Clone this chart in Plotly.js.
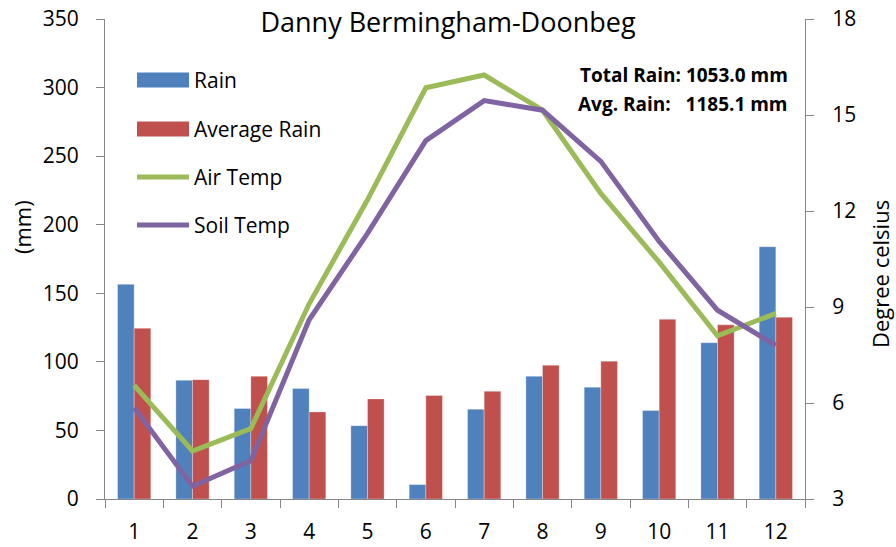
<!DOCTYPE html>
<html>
<head>
<meta charset="utf-8">
<script src="https://cdn.plot.ly/plotly-3.0.1.min.js"></script>
<style>html,body{margin:0;padding:0;background:#fff;}#chart{width:896px;height:547px;}</style>
</head>
<body>
<div id="chart"></div>
<script>
// ---- data ----
const months = ["1","2","3","4","5","6","7","8","9","10","11","12"];
const rain = [156.5, 86.5, 66, 80.5, 53.5, 10.5, 65.5, 89.5, 81.5, 64.5, 114, 184];
const avgRain = [124.5, 87, 89.5, 63.5, 73, 75.5, 78.5, 97.5, 100.5, 131, 127, 132.5];
const airTemp = [6.55, 4.5, 5.2, 9.1, 12.35, 15.85, 16.25, 15.15, 12.55, 10.4, 8.1, 8.8];
const soilTemp = [5.85, 3.4, 4.2, 8.6, 11.3, 14.2, 15.45, 15.15, 13.55, 11.05, 8.9, 7.8];
const seriesNames = ["Rain", "Average Rain", "Air Temp", "Soil Temp"];
const titleText = "Danny Bermingham-Doonbeg";
const leftAxisTitle = "(mm)";
const rightAxisTitle = "Degree celsius";
const totalRainText = "Total Rain: 1053.0 mm";
const avgRainText = "Avg. Rain:\u00a0\u00a0\u00a01185.1 mm";

const colors = ["#4F81BD", "#C0504D", "#9BBB59", "#8064A2"];
const FONT = "Open Sans, Noto Sans, sans-serif";
const AXC = "#868686";

const traces = [
  {type:"bar", x:months, y:rain, name:seriesNames[0], marker:{color:colors[0], line:{color:"rgba(255,255,255,0.6)", width:0.5}}, showlegend:false},
  {type:"bar", x:months, y:avgRain, name:seriesNames[1], marker:{color:colors[1], line:{color:"rgba(255,255,255,0.6)", width:0.5}}, showlegend:false},
  {type:"scatter", mode:"lines", x:months, y:airTemp, name:seriesNames[2], yaxis:"y2", line:{color:colors[2], width:5}, showlegend:false},
  {type:"scatter", mode:"lines", x:months, y:soilTemp, name:seriesNames[3], yaxis:"y2", line:{color:colors[3], width:5}, showlegend:false}
];

// manual legend (layout decoration)
const W = 700, H = 480; // plot area size in px
const legTop = [80, 129, 177, 225]; // px from top of figure for row centres
const shapes = [];
const annotations = [];
for (let i = 0; i < 4; i++) {
  const yc = (499 - legTop[i]) / H;
  const x0 = (137 - 105) / W, x1 = (189 - 105) / W;
  if (i < 2) {
    shapes.push({type:"rect", xref:"paper", yref:"paper", x0:x0, x1:x1, y0:yc - 7.5/H, y1:yc + 7.5/H, fillcolor:colors[i], line:{width:0}});
  } else {
    shapes.push({type:"line", xref:"paper", yref:"paper", x0:x0, x1:x1, y0:yc, y1:yc, line:{color:colors[i], width:5}});
  }
  annotations.push({xref:"paper", yref:"paper", x:(192 - 105)/W, y:yc, xanchor:"left", yanchor:"middle", showarrow:false, text:seriesNames[i], font:{family:FONT, size:21, color:"#000"}});
}
annotations.push({xref:"paper", yref:"paper", x:(790-105)/W, y:(499-75)/H, xanchor:"right", yanchor:"middle", showarrow:false, text:"<b>"+totalRainText+"</b>", font:{family:FONT, size:19, color:"#000"}});
annotations.push({xref:"paper", yref:"paper", x:(790-105)/W, y:(499-104)/H, xanchor:"right", yanchor:"middle", showarrow:false, text:"<b>"+avgRainText+"</b>", font:{family:FONT, size:19, color:"#000"}});
annotations.push({xref:"paper", yref:"paper", x:(22-105)/W, y:(499-227)/H, xanchor:"center", yanchor:"middle", showarrow:false, textangle:-90, text:leftAxisTitle, font:{family:FONT, size:22, color:"#000"}});
annotations.push({xref:"paper", yref:"paper", x:(880-105)/W, y:(499-274)/H, xanchor:"center", yanchor:"middle", showarrow:false, textangle:-90, text:rightAxisTitle, font:{family:FONT, size:22, color:"#000"}});

const layout = {
  width:896, height:547,
  margin:{l:105, r:91, t:19, b:48},
  paper_bgcolor:"#fff", plot_bgcolor:"#fff",
  font:{family:FONT, size:21, color:"#000"},
  title:{text:titleText, font:{family:FONT, size:27, color:"#000"}, x:0.5, xanchor:"center", y:0.958, yanchor:"middle", yref:"container"},
  barmode:"group", bargap:0.43, bargroupgap:0,
  showlegend:false,
  xaxis:{type:"category", range:[-0.5, 11.5], showline:true, linecolor:AXC, linewidth:1, ticks:"outside", tickson:"boundaries", ticklen:8, tickcolor:AXC, showgrid:false, zeroline:false, tickfont:{size:21}, ticklabelstandoff:14},
  yaxis:{range:[0,350], dtick:50, showline:true, linecolor:AXC, linewidth:1, ticks:"outside", ticklen:8, tickcolor:AXC, showgrid:false, zeroline:false, tickfont:{size:21}, ticklabelstandoff:13},
  yaxis2:{range:[3,18], dtick:3, overlaying:"y", side:"right", showline:true, linecolor:AXC, linewidth:1, ticks:"outside", ticklen:8, tickcolor:AXC, showgrid:false, zeroline:false, tickfont:{size:21}, ticklabelstandoff:14},
  shapes:shapes,
  annotations:annotations
};

Plotly.newPlot("chart", traces, layout, {displayModeBar:false, staticPlot:true});
</script>
</body>
</html>
